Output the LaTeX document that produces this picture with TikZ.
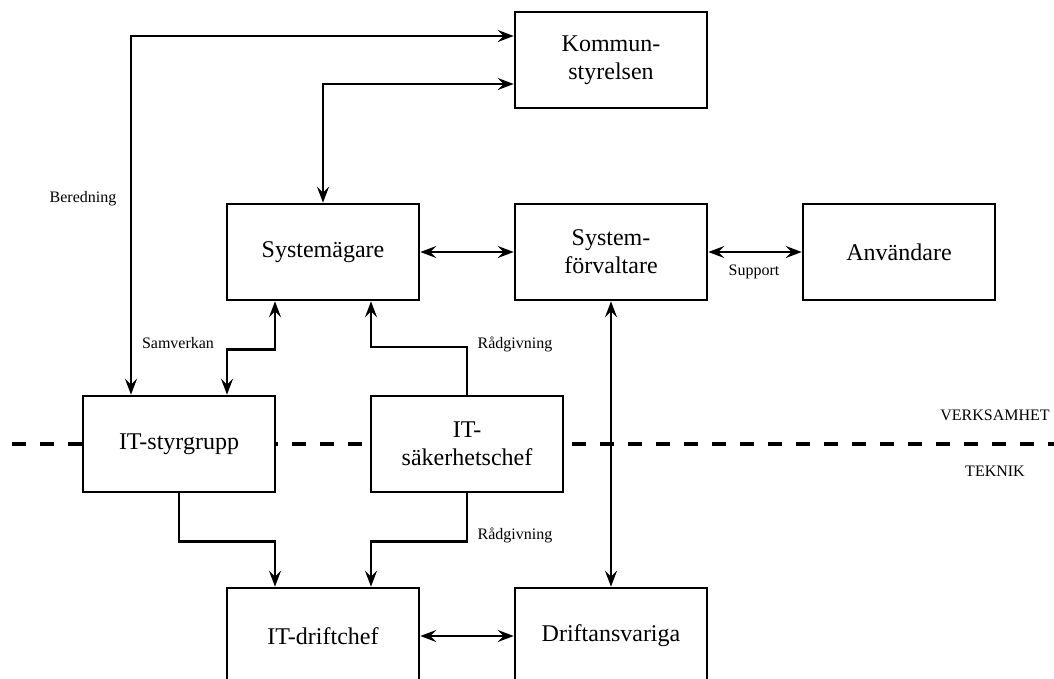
\documentclass[tikz,border=0pt]{standalone}
\usepackage{fontspec}
\setmainfont{Liberation Serif}
\usetikzlibrary{arrows.meta,calc}
\begin{document}
\begin{tikzpicture}[x=1pt,y=-1pt,
  box/.style={draw,line width=2.6pt,fill=white,minimum width=192pt,minimum height=96pt,inner sep=0pt,align=center,font=\fontsize{24}{28}\selectfont},
  conn/.style={line width=2.4pt,arrows={-},>={Stealth[length=16pt,width=12pt,inset=6pt]}},
  lbl/.style={font=\fontsize{16}{18}\selectfont,inner sep=0pt}]
\useasboundingbox (0,0) rectangle (1054,678);
\coordinate (dl) at (12,444);
\coordinate (dr) at (1054,444);
\draw[line width=4.4pt,dash pattern=on 14pt off 14pt] (dl) -- (dr);
\node[box] (K) at (611,60) {Kommun-\\styrelsen};
\node[box] (SA) at (323,252) {Systemägare};
\node[box] (SF) at (611,252) {System-\\förvaltare};
\node[box] (AN) at (899,252) {Användare};
\node[box] (ITS) at (179,444) {IT-styrgrupp};
\node[box] (SAK) at (467,444) {IT-\\säkerhetschef};
\node[box] (DC) at (323,636) {IT-driftchef};
\node[box] (DA) at (611,636) {Driftansvariga};
\draw[conn,<->] ($(ITS.north)+(-48,0)$) |- ($(K.west)+(0,-24)$);
\draw[conn,<->] ($(K.west)+(0,24)$) -| (SA.north);
\draw[conn,<->] (SA.east) -- (SF.west);
\draw[conn,<->] (SF.east) -- (AN.west);
\draw[conn,<->] ($(SA.south)+(-48,0)$) -- ++(0,48) -| ($(ITS.north)+(48,0)$);
\draw[conn,->] (SAK.north) -- ++(0,-48) -| ($(SA.south)+(48,0)$);
\draw[conn,<->] (SF.south) -- (DA.north);
\draw[conn,->] (ITS.south) -- ++(0,48) -| ($(DC.north)+(-48,0)$);
\draw[conn,->] (SAK.south) -- ++(0,48) -| ($(DC.north)+(48,0)$);
\draw[conn,<->] (DC.east) -- (DA.west);
\node[lbl] (lb1) at (83,199) {Beredning};
\node[lbl] (lb2) at (178,343) {Samverkan};
\node[lbl] (lb3) at (515,344) {Rådgivning};
\node[lbl] (lb4) at (515,535) {Rådgivning};
\node[lbl] (lb5) at (754,272) {Support};
\node[lbl] (lb6) at (995,415) {VERKSAMHET};
\node[lbl] (lb7) at (995,471) {TEKNIK};
\end{tikzpicture}
\end{document}
